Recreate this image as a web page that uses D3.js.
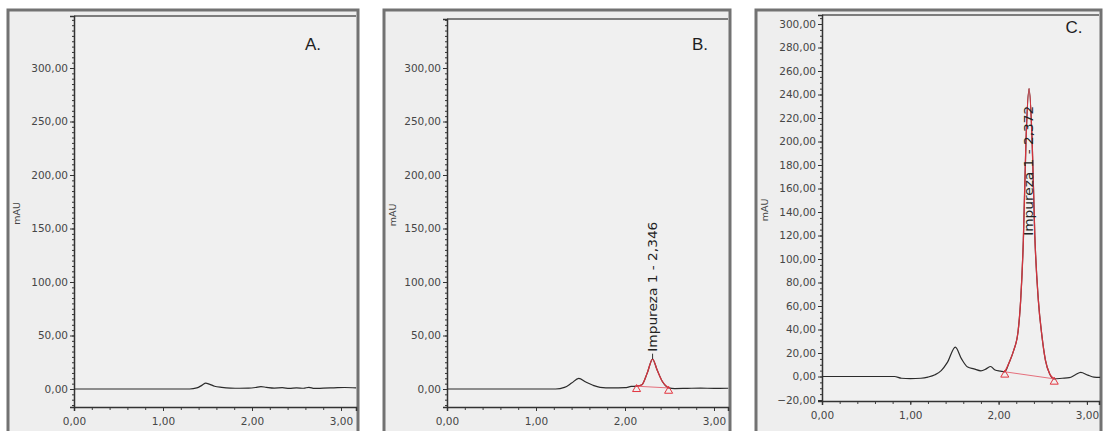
<!DOCTYPE html>
<html>
<head>
<meta charset="utf-8">
<script src="https://cdn.jsdelivr.net/npm/d3@7"></script>
<style>
  html, body { margin: 0; padding: 0; background: #fff; }
  svg { display: block; }
  .tick text { font: 10.5px "DejaVu Sans", sans-serif; fill: #464646; }
</style>
</head>
<body>
<svg id="chart" width="1103" height="431"></svg>
<script>
/* Três cromatogramas lado a lado: A (branco), B e C (impureza 1) */

const LETRAS = ["A.", "B.", "C."];
const Y_LABEL = "mAU";
const X_TICKS = [0, 1, 2, 3];
const Y_TICKS_AB = [0, 50, 100, 150, 200, 250, 300];
const Y_TICKS_C = [-20, 0, 20, 40, 60, 80, 100, 120, 140, 160, 180, 200, 220, 240, 260, 280, 300];

// sinal A
const tA = [0, 1.30, 1.38, 1.44, 1.48, 1.52, 1.58, 1.66, 1.76, 1.86, 1.96, 2.04, 2.10, 2.16,
            2.25, 2.34, 2.42, 2.50, 2.58, 2.64, 2.70, 2.80, 2.92, 3.04, 3.17];
const vA = [0, 0, 1.0, 3.6, 5.4, 4.6, 2.6, 1.6, 0.9, 0.7, 0.8, 1.4, 2.2, 1.6,
            0.9, 1.2, 0.6, 1.1, 0.7, 1.6, 0.5, 0.8, 1.1, 1.4, 1.0];
// sinal B
const tB = [0, 1.22, 1.32, 1.40, 1.48, 1.56, 1.64, 1.72, 1.85, 2.00, 2.07, 2.13, 2.19,
            2.25, 2.31, 2.36, 2.42, 2.49, 2.56, 2.70, 2.85, 3.00, 3.16];
const vB = [0, 0, 1.5, 5.5, 10, 6.5, 3.5, 1.6, 1.0, 1.2, 2.4, 2.6, 4.0,
            15, 28, 18, 7, 1.0, 0.4, 0.6, 0.8, 0.6, 0.7];
// sinal C
const tC = [0, 0.82, 0.90, 1.00, 1.12, 1.20, 1.28, 1.35, 1.42, 1.51, 1.58, 1.65, 1.72, 1.80,
            1.86, 1.91, 1.96, 2.02, 2.07, 2.12, 2.17, 2.22, 2.25, 2.28, 2.31, 2.345, 2.38,
            2.41, 2.45, 2.49, 2.53, 2.58, 2.63, 2.72, 2.80, 2.87, 2.93, 3.01, 3.08, 3.15];
const vC = [0, 0, -1.5, -1.8, -1.5, -0.5, 1.5, 5, 12, 25, 15, 8, 6.5, 4.8,
            6.5, 8.5, 5.5, 4.6, 4, 12, 22, 38, 65, 115, 200, 245, 200,
            120, 65, 35, 14, 2, -2, -1.5, -1, 1.5, 3.5, 1.2, -0.5, -0.8];

// picos integrados (B e C)
const PICO_PAINEL = [1, 2];
const PICO_INICIO = [2.13, 2.07];
const PICO_FIM = [2.49, 2.63];
const PICO_ROTULO = ["Impureza 1 - 2,346", "Impureza 1 - 2,372"];
const ROTULO_T = [2.31, 2.345];
const ROTULO_V = [33, 118];

const svg = d3.select("#chart");
const fmt = (d) => d3.format(".2f")(d).replace(".", ",");

const paineis = [
  { frame: [8, 10, 358], plot: [74, 16, 356, 407], y0: 389, y300: 68, pxMin: 89,
    yTicks: Y_TICKS_AB, t: tA, v: vA, letraDx: -43, letraY: 50 },
  { frame: [384, 10, 730], plot: [447, 19, 728, 407], y0: 389, y300: 68, pxMin: 89,
    yTicks: Y_TICKS_AB, t: tB, v: vB, letraDx: -28, letraY: 50 },
  { frame: [756, 10, 1101], plot: [822, 15, 1099, 401], y0: 376.5, y300: 24, pxMin: 88.3,
    yTicks: Y_TICKS_C, t: tC, v: vC, letraDx: -25, letraY: 33 },
];

paineis.forEach((p, i) => {
  const [fx, fy, fr] = p.frame;
  const [l, t, r, b] = p.plot;
  const g = svg.append("g");

  g.append("rect").attr("x", fx).attr("y", fy).attr("width", fr - fx).attr("height", 440)
    .attr("fill", "#eeeeee").attr("stroke", "#727272").attr("stroke-width", 3);
  g.append("rect").attr("x", l).attr("y", t).attr("width", r - l).attr("height", b - t)
    .attr("fill", "#f0f0f0");
  g.append("line").attr("x1", l).attr("x2", r).attr("y1", t).attr("y2", t)
    .attr("stroke", "#7d7d7d").attr("stroke-width", 2);

  // escalas calibradas pelos ticks
  const yCal = d3.scaleLinear().domain([0, 300]).range([p.y0, p.y300]);
  const y = d3.scaleLinear().domain([yCal.invert(b), yCal.invert(t)]).range([b, t]);
  const x = d3.scaleLinear().domain([0, (r - l) / p.pxMin]).range([l, r]);

  // eixo y
  const yMinor = d3.range(Math.ceil(y.domain()[0] / 5) * 5, y.domain()[1], 5);
  g.append("g").attr("transform", `translate(${l},0)`)
    .call(d3.axisLeft(y).tickValues(yMinor).tickSize(2).tickFormat(""))
    .call((a) => a.select(".domain").remove())
    .selectAll("line").attr("stroke", "#333");
  g.append("g").attr("transform", `translate(${l},0)`)
    .call(d3.axisLeft(y).tickValues(p.yTicks).tickSize(4).tickPadding(2).tickFormat(fmt))
    .call((a) => a.select(".domain").attr("stroke", "#333").attr("stroke-width", 1.5))
    .selectAll("line").attr("stroke", "#333");

  // eixo x
  const xMinor = d3.range(0, x.domain()[1], 0.2);
  g.append("g").attr("transform", `translate(0,${b})`)
    .call(d3.axisBottom(x).tickValues(xMinor).tickSize(3).tickFormat(""))
    .call((a) => a.select(".domain").remove())
    .selectAll("line").attr("stroke", "#444");
  g.append("g").attr("transform", `translate(0,${b})`)
    .call(d3.axisBottom(x).tickValues(X_TICKS).tickSize(4).tickPadding(7).tickFormat(fmt))
    .call((a) => a.select(".domain").attr("stroke", "#333").attr("stroke-width", 1.5))
    .selectAll("line").attr("stroke", "#333");

  // rótulo do eixo y
  g.append("text")
    .attr("transform", `translate(${fx + 12},${(t + b) / 2 + 2}) rotate(-90)`)
    .attr("text-anchor", "middle")
    .style("font", "9.5px 'DejaVu Sans', sans-serif").attr("fill", "#444")
    .text(Y_LABEL);

  // letra do painel
  g.append("text").attr("x", r + p.letraDx).attr("y", p.letraY)
    .attr("text-anchor", "middle")
    .style("font", "17px 'Liberation Sans', Arial, sans-serif").attr("fill", "#1e1e1e")
    .text(LETRAS[i]);

  const pts = p.t.map((tt, k) => [tt, p.v[k]]);
  const linha = d3.line().x((d) => x(d[0])).y((d) => y(d[1])).curve(d3.curveMonotoneX);

  g.append("path").datum(pts).attr("d", linha)
    .attr("fill", "none").attr("stroke", "#2b2b2b").attr("stroke-width", 1.2);

  const k = PICO_PAINEL.indexOf(i);
  if (k >= 0) {
    const ini = PICO_INICIO[k], fim = PICO_FIM[k];
    const seg = pts.filter((d) => d[0] >= ini && d[0] <= fim);
    const base = [seg[0], seg[seg.length - 1]];
    g.append("path").datum(base).attr("d", d3.line().x((d) => x(d[0])).y((d) => y(d[1])))
      .attr("stroke", "#e56f7c").attr("stroke-width", 1).attr("fill", "none");
    g.append("path").datum(seg).attr("d", linha)
      .attr("fill", "none").attr("stroke", "#e3343f").attr("stroke-width", 1.3)
      .attr("stroke-opacity", 0.9);
    g.selectAll(".marca").data(base).join("path")
      .attr("transform", (d) => `translate(${x(d[0])},${y(d[1]) + 3})`)
      .attr("d", d3.symbol(d3.symbolTriangle, 28))
      .attr("fill", "none").attr("stroke", "#e3343f").attr("stroke-width", 1);

    const lx = x(ROTULO_T[k]), ly = y(ROTULO_V[k]);
    if (i === 1) {
      g.append("line").attr("x1", lx).attr("x2", lx)
        .attr("y1", y(seg.find((d) => d[0] === ROTULO_T[k])[1])).attr("y2", ly)
        .attr("stroke", "#333");
    }
    g.append("text")
      .attr("transform", `translate(${lx + 4},${ly - 2}) rotate(-90)`)
      .style("font", "11.5px 'DejaVu Sans', sans-serif").attr("fill", "#222")
      .attr("textLength", 130).attr("lengthAdjust", "spacingAndGlyphs")
      .text(PICO_ROTULO[k]);
  }
});
</script>
</body>
</html>
